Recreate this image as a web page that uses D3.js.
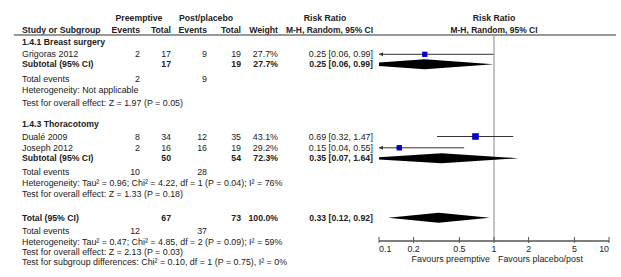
<!DOCTYPE html>
<html>
<head>
<meta charset="utf-8">
<script src="https://cdn.jsdelivr.net/npm/d3@7"></script>
<style>
  body { margin: 0; background: #fff; }
  text { font-family: "Liberation Sans", Arial, sans-serif; font-size: 8.9px; fill: #222; }
  .b { font-weight: bold; font-size: 8.7px; }
</style>
</head>
<body>
<div id="chart"></div>
<script>
// forest plot data
const studies = ["Grigoras 2012", "Dualé 2009", "Joseph 2012"];
const studyGroup = [0, 1, 1];
const evPre = [2, 8, 2];
const totPre = [17, 34, 16];
const evPost = [9, 12, 16];
const totPost = [19, 35, 19];
const weights = [27.7, 43.1, 29.2];
const rr = [0.25, 0.69, 0.15];
const rrLo = [0.06, 0.32, 0.04];
const rrHi = [0.99, 1.47, 0.55];

const subgroups = ["1.4.1 Breast surgery", "1.4.3 Thoracotomy"];
const subTotPre = [17, 50];
const subTotPost = [19, 54];
const subEvPre = [2, 10];
const subEvPost = [9, 28];
const subWeight = [27.7, 72.3];
const subRR = [0.25, 0.35];
const subLo = [0.06, 0.07];
const subHi = [0.99, 1.64];
const subHet = ["Heterogeneity: Not applicable",
  "Heterogeneity: Tau² = 0.96; Chi² = 4.22, df = 1 (P = 0.04); I² = 76%"];
const subTest = ["Test for overall effect: Z = 1.97 (P = 0.05)",
  "Test for overall effect: Z = 1.33 (P = 0.18)"];

const total = {totPre: 67, totPost: 73, evPre: 12, evPost: 37, weight: 100.0, rr: 0.33, lo: 0.12, hi: 0.92};
const totalLines = ["Heterogeneity: Tau² = 0.47; Chi² = 4.85, df = 2 (P = 0.09); I² = 59%",
  "Test for overall effect: Z = 2.13 (P = 0.03)",
  "Test for subgroup differences: Chi² = 0.10, df = 1 (P = 0.75), I² = 0%"];

const ticks = [0.1, 0.2, 0.5, 1, 2, 5, 10];
const favours = ["Favours preemptive", "Favours placebo/post"];

// layout
const width = 621, height = 277;
const col = {name: 22, ev1: 140, tot1: 171, ev2: 207, tot2: 241, weight: 278, ci: 373};
const axisY = 241, topY = 35;
// row y positions (text centres)
const groupRows = [
  {head: 42.3, studies: [54.3], sub: 64.3, te: 78.7, het: 90, test: 103},
  {head: 124.3, studies: [136.5, 147.8], sub: 158.3, te: 172.3, het: 183.3, test: 194}
];
const totalRows = {tot: 217.7, te: 231, lines: [241.7, 252, 262.3]};

const svg = d3.select("#chart").append("svg")
  .attr("width", width).attr("height", height);

const x = d3.scaleLog().domain([0.1, 10]).range([379, 609]);
const fmt = d3.format(".2f");
const ciText = (m, l, h) => fmt(m) + " [" + fmt(l) + ", " + fmt(h) + "]";

function txt(xp, y, s, anchor, bold) {
  return svg.append("text")
    .attr("x", xp).attr("y", y).attr("dy", "0.35em")
    .attr("text-anchor", anchor || "start")
    .attr("class", bold ? "b" : null)
    .text(s);
}

// header
txt(139, 17.7, "Preemptive", "middle", true);
txt(206, 17.7, "Post/placebo", "middle", true);
txt(325, 17.7, "Risk Ratio", "middle", true);
txt(494, 17.7, "Risk Ratio", "middle", true);
txt(col.name, 30, "Study or Subgroup", "start", true);
txt(col.ev1, 30, "Events", "end", true);
txt(col.tot1, 30, "Total", "end", true);
txt(col.ev2, 30, "Events", "end", true);
txt(col.tot2, 30, "Total", "end", true);
txt(col.weight, 30, "Weight", "end", true);
txt(col.ci, 30, "M-H, Random, 95% CI", "end", true)
  .attr("textLength", 87).attr("lengthAdjust", "spacingAndGlyphs");
txt(494, 30, "M-H, Random, 95% CI", "middle", true)
  .attr("textLength", 87).attr("lengthAdjust", "spacingAndGlyphs");

svg.append("line")
  .attr("x1", 14).attr("x2", 616).attr("y1", topY).attr("y2", topY)
  .attr("stroke", "#777").attr("stroke-width", 1.5);

// line of no effect
svg.append("line")
  .attr("x1", x(1)).attr("x2", x(1)).attr("y1", topY).attr("y2", axisY)
  .attr("stroke", "#888").attr("stroke-width", 1);

svg.append("clipPath").attr("id", "plotclip")
  .append("rect")
  .attr("x", x(0.1)).attr("y", 0).attr("width", x(10) - x(0.1)).attr("height", height);

function diamond(y, m, l, h) {
  let pts = [[x(l), y], [x(m), y - 5], [x(h), y], [x(m), y + 5]];
  svg.append("polygon")
    .attr("clip-path", "url(#plotclip)")
    .attr("points", pts.map(p => p.join(",")).join(" "))
    .attr("fill", "#000");
}

function studyMark(y, i) {
  let l = Math.max(rrLo[i], 0.1), h = Math.min(rrHi[i], 10);
  svg.append("line")
    .attr("x1", x(l)).attr("x2", x(h)).attr("y1", y).attr("y2", y)
    .attr("stroke", "#333").attr("stroke-width", 1);
  if (rrLo[i] < 0.1) {
    svg.append("path")
      .attr("d", "M" + x(0.1) + "," + y + " l4,-2 l0,4 z")
      .attr("fill", "#333");
  }
  let s = Math.sqrt(weights[i]);
  svg.append("rect")
    .attr("x", x(rr[i]) - s / 2).attr("y", y - s / 2)
    .attr("width", s).attr("height", s)
    .attr("fill", "#0000c8");
}

subgroups.forEach((g, gi) => {
  let r = groupRows[gi];
  txt(col.name, r.head, g, "start", true);
  let idx = studies.map((s, i) => i).filter(i => studyGroup[i] == gi);
  idx.forEach((i, k) => {
    let y = r.studies[k];
    txt(col.name, y, studies[i]);
    txt(col.ev1, y, evPre[i], "end");
    txt(col.tot1, y, totPre[i], "end");
    txt(col.ev2, y, evPost[i], "end");
    txt(col.tot2, y, totPost[i], "end");
    txt(col.weight, y, weights[i].toFixed(1) + "%", "end");
    txt(col.ci, y, ciText(rr[i], rrLo[i], rrHi[i]), "end");
    studyMark(y, i);
  });
  txt(col.name, r.sub, "Subtotal (95% CI)", "start", true);
  txt(col.tot1, r.sub, subTotPre[gi], "end", true);
  txt(col.tot2, r.sub, subTotPost[gi], "end", true);
  txt(col.weight, r.sub, subWeight[gi].toFixed(1) + "%", "end", true);
  txt(col.ci, r.sub, ciText(subRR[gi], subLo[gi], subHi[gi]), "end", true);
  diamond(r.sub, subRR[gi], subLo[gi], subHi[gi]);
  txt(col.name, r.te, "Total events");
  txt(col.ev1, r.te, subEvPre[gi], "end");
  txt(col.ev2, r.te, subEvPost[gi], "end");
  txt(col.name, r.het, subHet[gi]);
  txt(col.name, r.test, subTest[gi]);
});

// overall
txt(col.name, totalRows.tot, "Total (95% CI)", "start", true);
txt(col.tot1, totalRows.tot, total.totPre, "end", true);
txt(col.tot2, totalRows.tot, total.totPost, "end", true);
txt(col.weight, totalRows.tot, total.weight.toFixed(1) + "%", "end", true);
txt(col.ci, totalRows.tot, ciText(total.rr, total.lo, total.hi), "end", true);
diamond(totalRows.tot, total.rr, total.lo, total.hi);
txt(col.name, totalRows.te, "Total events");
txt(col.ev1, totalRows.te, total.evPre, "end");
txt(col.ev2, totalRows.te, total.evPost, "end");
totalLines.forEach((s, i) => txt(col.name, totalRows.lines[i], s));

// axis
const ax = svg.append("g");
ax.append("line")
  .attr("x1", x(0.1)).attr("x2", x(10)).attr("y1", axisY).attr("y2", axisY)
  .attr("stroke", "#555").attr("stroke-width", 1.5);
ax.selectAll(".tk").data(ticks).enter().append("line")
  .attr("x1", d => x(d)).attr("x2", d => x(d))
  .attr("y1", axisY - 4).attr("y2", axisY + 2)
  .attr("stroke", "#555").attr("stroke-width", 1);
ax.selectAll(".tl").data(ticks).enter().append("text")
  .attr("x", d => x(d)).attr("y", axisY + 8).attr("dy", "0.35em")
  .attr("text-anchor", (d, i) => i == 0 ? "start" : (i == ticks.length - 1 ? "end" : "middle"))
  .text(d => d);
txt(x(1) - 4, 259.3, favours[0], "end");
txt(x(1) + 4, 259.3, favours[1], "start");
</script>
</body>
</html>
